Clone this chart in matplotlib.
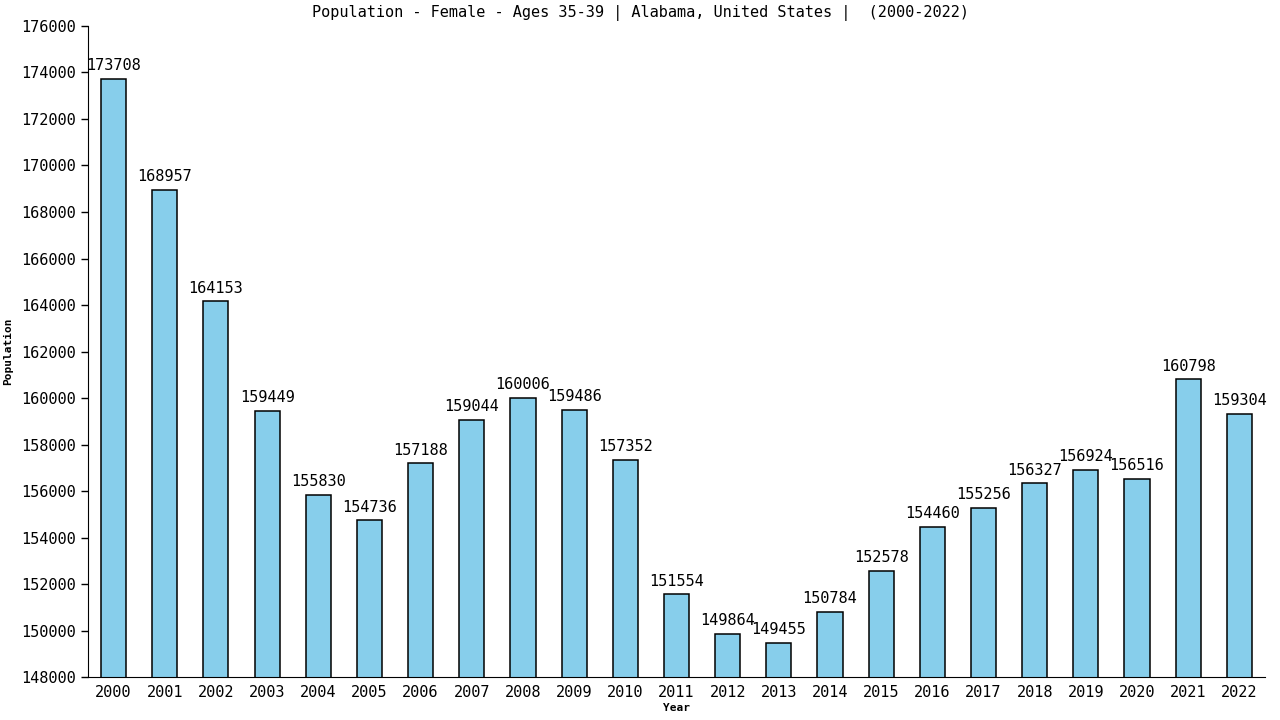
import matplotlib
matplotlib.use("Agg")
import matplotlib.pyplot as plt

years = [str(y) for y in range(2000, 2023)]
values = [173708, 168957, 164153, 159449, 155830, 154736, 157188, 159044, 160006,
          159486, 157352, 151554, 149864, 149455, 150784, 152578, 154460, 155256,
          156327, 156924, 156516, 160798, 159304]
title = "Population - Female - Ages 35-39 | Alabama, United States |  (2000-2022)"

plt.rcParams['font.family'] = ['DejaVu Sans Mono']
fig = plt.figure(figsize=(12.8, 7.2), dpi=100)
ax = fig.add_axes([0.06875, 0.0597, 0.9195, 0.9042])
x = list(range(len(years)))
ax.bar(x, values, width=0.49, color='#87ceeb', edgecolor='black', linewidth=1.1)
for xi, v in zip(x, values):
    ax.text(xi, v + 250, str(v), ha='center', va='bottom', fontsize=11)
ax.set_xlim(-0.5, 22.5)
ax.set_ylim(148000, 176000)
ax.set_yticks(range(148000, 176001, 2000))
ax.set_xticks(x)
ax.set_xticklabels(years)
ax.tick_params(axis='both', labelsize=11, direction='out', length=5, width=1)
ax.tick_params(axis='x', length=0, pad=6)
ax.spines['top'].set_visible(False)
ax.spines['right'].set_visible(False)
ax.set_xlabel('Year', fontsize=8, fontweight='bold', labelpad=2)
ax.set_ylabel('Population', fontsize=8, fontweight='bold', labelpad=6)
fig.text(0.5, 0.982, title, ha='center', va='center', fontsize=11)
fig.savefig('out.png', dpi=100)
